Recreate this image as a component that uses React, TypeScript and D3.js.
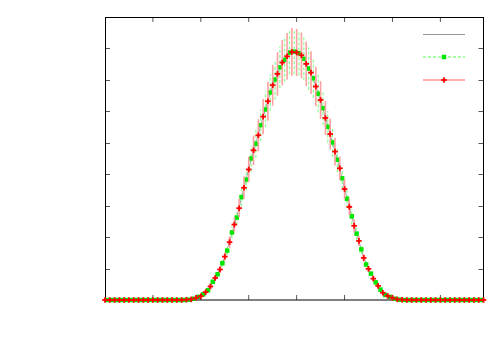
import React from "react";
import * as d3 from "d3";

// x positions: red points sit on integers, green points on half-integers
const redX = d3.range(-40, 40);
const greenX = d3.range(-39.5, 39, 1);

const modelValues = [
  0, 0, 0, 0, 0, 0, 0, 0, 0, 0, 0, 0, 0, 0, 0, 0, 0,
  0.0001, 0.0002, 0.0007, 0.0013, 0.0024, 0.0044, 0.0069, 0.0098, 0.0136, 0.0186, 0.0238, 0.0294,
  0.0355, 0.0417, 0.0474, 0.0526, 0.0581, 0.0634, 0.0681, 0.0721, 0.0753, 0.0777, 0.0788,
  0.0788, 0.0777, 0.0753, 0.0721, 0.0681, 0.0634, 0.0581, 0.0526, 0.0474, 0.0417, 0.0355,
  0.0294, 0.0238, 0.0186, 0.0136, 0.0098, 0.0069, 0.0044, 0.0024, 0.0013, 0.0007, 0.0002, 0.0001,
  0, 0, 0, 0, 0, 0, 0, 0, 0, 0, 0, 0, 0, 0, 0, 0, 0,
];

const greenValues = [
  0, 0, 0, 0, 0, 0, 0, 0, 0, 0, 0, 0, 0, 0, 0, 0, 0,
  0.0001, 0.0004, 0.001, 0.0018, 0.0031, 0.0058, 0.0082, 0.0117, 0.0157, 0.0215, 0.0262, 0.0327,
  0.0383, 0.045, 0.0497, 0.0556, 0.0606, 0.066, 0.0701, 0.074, 0.0764, 0.0787, 0.079,
  0.0785, 0.0767, 0.0736, 0.0705, 0.0656, 0.061, 0.0551, 0.0501, 0.0446, 0.0387, 0.0322,
  0.0266, 0.0211, 0.0161, 0.0113, 0.0084, 0.0056, 0.0033, 0.0016, 0.001, 0.0004, 0.0001,
  0, 0, 0, 0, 0, 0, 0, 0, 0, 0, 0, 0, 0, 0, 0, 0, 0,
];

const greenErrors = [
  0, 0, 0, 0, 0, 0, 0, 0, 0, 0, 0, 0, 0, 0, 0, 0, 0,
  0, 0.0001, 0.0002, 0.0003, 0.0004, 0.0006, 0.0008, 0.0011, 0.0014, 0.0019, 0.0024, 0.003,
  0.0033, 0.0041, 0.0045, 0.005, 0.0057, 0.0058, 0.0064, 0.0066, 0.007, 0.0069, 0.0072,
  0.0071, 0.0068, 0.0067, 0.0062, 0.006, 0.0054, 0.005, 0.0046, 0.004, 0.0034, 0.0029,
  0.0025, 0.0019, 0.0015, 0.001, 0.0008, 0.0005, 0.0003, 0.0002, 0.0001, 0.0001, 0,
  0, 0, 0, 0, 0, 0, 0, 0, 0, 0, 0, 0, 0, 0, 0, 0, 0,
];

const redValues = [
  0, 0, 0, 0, 0, 0, 0, 0, 0, 0, 0, 0, 0, 0, 0, 0, 0,
  0.0001, 0.0002, 0.0007, 0.0012, 0.0025, 0.0043, 0.007, 0.0097, 0.0138, 0.0184, 0.024, 0.0292,
  0.0357, 0.0415, 0.0476, 0.0524, 0.0583, 0.0632, 0.0683, 0.0719, 0.0755, 0.0775, 0.0789,
  0.0787, 0.0778, 0.0751, 0.0723, 0.0679, 0.0636, 0.0579, 0.0528, 0.0472, 0.0419, 0.0353,
  0.0296, 0.0236, 0.0188, 0.0134, 0.0099, 0.0068, 0.0045, 0.0023, 0.0013, 0.0007, 0.0002, 0.0001,
  0, 0, 0, 0, 0, 0, 0, 0, 0, 0, 0, 0, 0, 0, 0, 0, 0,
];

const redErrors = [
  0, 0, 0, 0, 0, 0, 0, 0, 0, 0, 0, 0, 0, 0, 0, 0, 0,
  0, 0.0001, 0.0001, 0.0002, 0.0003, 0.0005, 0.0007, 0.001, 0.0013, 0.0018, 0.0023, 0.0029,
  0.0036, 0.004, 0.0047, 0.0051, 0.0056, 0.0062, 0.0065, 0.0069, 0.0072, 0.0074, 0.0076,
  0.0075, 0.0073, 0.0071, 0.0068, 0.0063, 0.006, 0.0054, 0.0049, 0.0044, 0.0037, 0.0032,
  0.0026, 0.0021, 0.0016, 0.0012, 0.0008, 0.0006, 0.0004, 0.0002, 0.0001, 0.0001, 0, 0,
  0, 0, 0, 0, 0, 0, 0, 0, 0, 0, 0, 0, 0, 0, 0, 0, 0,
];

const xTicks = [-30, -20, -10, 0, 10, 20, 30];
const yTicks = [0.01, 0.02, 0.03, 0.04, 0.05, 0.06, 0.07, 0.08];

const LEFT = 105;
const RIGHT = 483.5;
const TOP = 17;
const BOTTOM = 300;

export default function App() {
  const x = d3.scaleLinear().domain([-40, 39]).range([LEFT, RIGHT]);
  const y = d3.scaleLinear().domain([0, 0.09]).range([BOTTOM, TOP]);

  const modelLine = d3
    .line<number>()
    .x((d, i) => x(redX[i]))
    .y((d) => y(d))(modelValues);

  const tickLen = 5;
  const sq = 4.5; // green square size
  const pl = 2.8; // red plus half-size

  return (
    <svg
      width={500}
      height={350}
      style={{ position: "fixed", left: 0, top: 0, background: "#fff" }}
    >
      <rect x={0} y={0} width={500} height={350} fill="#fff" />

      {/* ticks */}
      <g stroke="#555" strokeWidth={1}>
        {xTicks.map((t) => (
          <g key={"x" + t}>
            <line x1={x(t)} x2={x(t)} y1={BOTTOM} y2={BOTTOM - tickLen} />
            <line x1={x(t)} x2={x(t)} y1={TOP} y2={TOP + tickLen} />
          </g>
        ))}
        {yTicks.map((t) => (
          <g key={"y" + t}>
            <line x1={LEFT} x2={LEFT + tickLen} y1={Math.round(y(t)) + 0.5} y2={Math.round(y(t)) + 0.5} />
            <line x1={RIGHT - tickLen} x2={RIGHT} y1={Math.round(y(t)) + 0.5} y2={Math.round(y(t)) + 0.5} />
          </g>
        ))}
      </g>

      {/* frame */}
      <rect
        x={LEFT + 0.5}
        y={TOP + 0.5}
        width={RIGHT - LEFT - 0.5}
        height={BOTTOM - TOP - 0.5}
        fill="none"
        stroke="#000"
        strokeWidth={1}
      />

      {/* model curve */}
      <path d={modelLine ?? ""} fill="none" stroke="#a0a0a0" strokeWidth={1} />

      {/* green series */}
      <g>
        {greenValues.map((v, i) => (
          <line
            key={"ge" + i}
            x1={x(greenX[i])}
            x2={x(greenX[i])}
            y1={y(v - greenErrors[i])}
            y2={y(v + greenErrors[i])}
            stroke="#8cff8c"
            strokeWidth={1.2}
            strokeDasharray="3,2"
          />
        ))}
        {greenValues.map((v, i) => (
          <rect
            key={"gp" + i}
            x={x(greenX[i]) - sq / 2}
            y={y(v) - sq / 2}
            width={sq}
            height={sq}
            fill="#00e600"
          />
        ))}
      </g>

      {/* red series */}
      <g>
        {redValues.map((v, i) => (
          <line
            key={"re" + i}
            x1={x(redX[i])}
            x2={x(redX[i])}
            y1={y(v - redErrors[i])}
            y2={y(v + redErrors[i])}
            stroke="#ffa0a0"
            strokeWidth={1.6}
          />
        ))}
        {redValues.map((v, i) => {
          const cx = x(redX[i]);
          const cy = y(v);
          return (
            <g key={"rp" + i} stroke="#ff0000" strokeWidth={1.8}>
              <line x1={cx - pl} x2={cx + pl} y1={cy} y2={cy} />
              <line x1={cx} x2={cx} y1={cy - pl} y2={cy + pl} />
            </g>
          );
        })}
      </g>

      {/* legend */}
      <g>
        <line x1={423} x2={465} y1={34.5} y2={34.5} stroke="#999" strokeWidth={1} />
        <line x1={423} x2={465} y1={57} y2={57} stroke="#8cff8c" strokeWidth={1.5} strokeDasharray="3,2" />
        <rect x={444 - sq / 2} y={57 - sq / 2} width={sq} height={sq} fill="#00e600" />
        <line x1={423} x2={465} y1={80} y2={80} stroke="#ffb0b0" strokeWidth={2} />
        <g stroke="#ff0000" strokeWidth={1.8}>
          <line x1={444 - pl} x2={444 + pl} y1={80} y2={80} />
          <line x1={444} x2={444} y1={80 - pl} y2={80 + pl} />
        </g>
      </g>
    </svg>
  );
}
